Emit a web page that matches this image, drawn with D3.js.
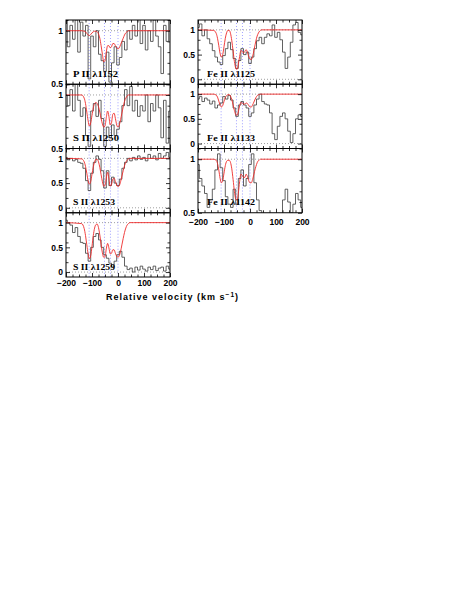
<!DOCTYPE html>
<meta charset="utf-8">
<style>
  body {
    background-color: white;
    padding: 0;
    margin: 0;
  }
  svg {
    display: block;
    background-color: white;
  }
  .lab {
    font-family: "Liberation Sans", sans-serif;
    font-weight: bold;
    font-size: 8.5px;
  }
  .ion {
    font-family: "Liberation Serif", serif;
    font-weight: bold;
    font-size: 9px;
  }
</style>
<script src="https://d3js.org/d3.v7.min.js"></script>
<svg id="vis"></svg>
<script>

// velocity grid of the spectra (km/s)
const vel = [-200,-190,-180,-170,-160,-150,-140,-130,-120,-110,-100,-90,-80,-70,-60,-50,-40,-30,-20,-10,
             0,10,20,30,40,50,60,70,80,90,100,110,120,130,140,150,160,170,180,190,200];
// velocity grid of the fitted profiles
const modelVel = [-200,-140,-130,-125,-120,-115,-110,-105,-100,-95,-90,-85,-80,-75,-70,-65,-60,-55,-50,-45,
                  -40,-35,-30,-25,-20,-15,-10,-5,0,5,10,15,20,25,30,35,40,45,50,60,200];
// component velocities (blue dotted)
const compVel = [-111, -52, -29, 0];

const ionLabels = ["P  II  λ1152", "S  II  λ1250", "S  II  λ1253", "S  II  λ1259",
                   "Fe  II  λ1125", "Fe  II  λ1133", "Fe  II  λ1142"];

// normalised flux
const specP1152 = [1.12,0.85,1.05,0.92,1.1,0.8,1.08,0.95,1.05,0.55,0.95,0.85,1.0,0.78,0.72,0.62,0.8,0.52,0.7,0.85,
                   0.68,0.75,0.9,0.82,1.0,0.92,1.05,0.95,1.12,0.88,1.05,0.82,1.0,0.9,1.1,0.95,0.85,0.6,1.05,0.9,1.1];
const specS1250 = [1.0,0.9,1.05,0.85,1.1,0.95,0.8,0.88,0.62,0.52,0.85,0.92,0.8,0.95,0.78,0.52,0.7,0.6,0.72,0.62,
                   0.68,0.75,0.9,1.05,0.9,1.08,0.85,0.95,0.8,0.9,0.85,1.0,0.75,0.92,0.85,1.0,0.88,0.6,0.95,0.55,0.85];
const specS1253 = [1.02,0.97,1.0,0.95,0.98,0.92,0.9,0.8,0.55,0.35,0.7,0.92,1.05,0.98,0.75,0.4,0.75,0.45,0.62,0.5,
                   0.45,0.58,0.8,0.92,1.0,0.95,1.02,0.97,1.05,0.98,1.02,0.95,1.08,1.0,1.05,0.97,1.1,1.0,1.05,1.12,1.02];
const specS1259 = [1.05,1.0,0.95,0.8,0.9,0.72,0.6,0.58,0.38,0.22,0.5,0.72,0.78,0.65,0.5,0.35,0.28,0.18,0.1,0.22,
                   0.35,0.42,0.3,0.12,0.05,0.08,0.0,0.1,0.04,0.12,0.06,0.02,0.1,0.05,0.12,0.03,0.08,0.1,0.02,0.12,0.06];
const specFe1125 = [1.05,1.12,0.88,1.0,0.82,0.72,0.58,0.45,0.35,0.3,0.48,0.62,0.75,0.6,0.42,0.22,0.38,0.62,0.5,0.55,
                    0.32,0.45,0.62,0.78,0.85,0.72,0.85,0.92,0.88,1.1,0.85,0.95,0.8,0.55,0.22,0.45,0.75,1.1,1.15,0.95,0.9];
const specFe1133 = [0.9,0.95,0.85,0.92,0.88,0.8,0.86,0.72,0.78,0.82,0.95,0.9,0.97,0.88,0.72,0.55,0.78,0.85,0.78,0.72,
                    0.55,0.62,0.78,0.9,1.0,0.85,0.8,0.78,0.62,0.2,0.08,0.35,0.55,0.62,0.5,0.25,0.02,0.2,0.5,0.58,0.55];
const specFe1142 = [0.95,0.82,0.75,0.68,0.55,0.62,0.72,0.9,1.05,0.92,0.8,0.65,0.58,0.55,0.72,0.58,0.82,0.9,0.75,0.82,
                    0.95,1.05,0.78,0.62,0.52,0.4,0.3,0.2,0.3,0.25,0.35,0.3,0.45,0.62,0.72,0.6,0.5,0.58,0.68,0.62,0.55];

// fitted profiles
const modP1152 = [1,1,0.995,0.99,0.975,0.96,0.955,0.965,0.98,0.99,0.995,0.995,0.99,0.97,0.93,0.86,0.78,0.71,0.72,0.8,
                  0.86,0.86,0.84,0.85,0.88,0.88,0.86,0.84,0.83,0.84,0.87,0.9,0.93,0.96,0.98,0.99,1,1,1,1,1];
const modS1250 = [1,1,0.97,0.92,0.84,0.76,0.71,0.74,0.81,0.88,0.92,0.93,0.92,0.89,0.84,0.78,0.73,0.7,0.71,0.79,
                  0.85,0.8,0.72,0.74,0.82,0.83,0.78,0.72,0.7,0.72,0.77,0.83,0.89,0.94,0.97,0.99,1,1,1,1,1];
const modS1253 = [1,0.99,0.93,0.84,0.7,0.55,0.48,0.53,0.68,0.83,0.93,0.98,0.98,0.93,0.82,0.67,0.53,0.44,0.45,0.6,
                  0.72,0.6,0.44,0.47,0.58,0.6,0.53,0.46,0.43,0.45,0.53,0.64,0.75,0.85,0.92,0.96,0.99,1,1,1,1];
const modS1259 = [1,0.98,0.88,0.74,0.55,0.37,0.27,0.33,0.52,0.74,0.89,0.96,0.97,0.9,0.75,0.56,0.39,0.3,0.31,0.47,
                  0.58,0.49,0.37,0.38,0.45,0.45,0.38,0.32,0.3,0.33,0.42,0.55,0.68,0.8,0.89,0.95,0.98,1,1,1,1];
const modFe1125 = [1,0.99,0.93,0.83,0.68,0.52,0.45,0.5,0.66,0.83,0.94,0.99,0.99,0.93,0.78,0.57,0.36,0.23,0.2,0.3,
                   0.46,0.58,0.57,0.53,0.56,0.6,0.55,0.46,0.41,0.4,0.46,0.58,0.71,0.83,0.91,0.96,0.99,1,1,1,1];
const modFe1133 = [1,1,0.98,0.94,0.86,0.78,0.74,0.77,0.85,0.93,0.97,0.99,0.99,0.96,0.89,0.78,0.67,0.59,0.57,0.64,
                   0.76,0.83,0.82,0.8,0.8,0.82,0.81,0.77,0.74,0.74,0.78,0.84,0.9,0.95,0.98,0.99,1,1,1,1,1];
const modFe1142 = [1,1,0.99,0.96,0.9,0.82,0.78,0.8,0.87,0.94,0.98,0.99,0.99,0.97,0.91,0.81,0.7,0.63,0.62,0.68,
                   0.79,0.86,0.85,0.83,0.83,0.86,0.84,0.8,0.78,0.78,0.81,0.86,0.91,0.95,0.98,0.99,1,1,1,1,1];

var width = 474, height = 614;
var svg = d3.select("#vis").attr("width", width).attr("height", height);

var colX = [66, 198], pw = 104, top0 = 20, ph = 64.25;
var narrow = [0.5, 1.1], wide = [-0.1, 1.2];

var panels = [
  {lab: ionLabels[0], spec: specP1152, model: modP1152, col: 0, row: 0, dom: narrow},
  {lab: ionLabels[1], spec: specS1250, model: modS1250, col: 0, row: 1, dom: narrow},
  {lab: ionLabels[2], spec: specS1253, model: modS1253, col: 0, row: 2, dom: wide},
  {lab: ionLabels[3], spec: specS1259, model: modS1259, col: 0, row: 3, dom: wide, last: true},
  {lab: ionLabels[4], spec: specFe1125, model: modFe1125, col: 1, row: 0, dom: wide},
  {lab: ionLabels[5], spec: specFe1133, model: modFe1133, col: 1, row: 1, dom: wide},
  {lab: ionLabels[6], spec: specFe1142, model: modFe1142, col: 1, row: 2, dom: narrow, last: true}
];
var labW = [45, 46, 42, 42, 48, 48, 48];

function tickify(sel, lw) {
  sel.select(".domain").remove();
  sel.selectAll("line").attr("stroke", "#000").attr("stroke-width", lw || 0.8);
}

panels.forEach(function(p, i) {
  var x0 = colX[p.col], y0 = top0 + p.row * ph;
  var xs = d3.scaleLinear().domain([-200, 200]).range([x0, x0 + pw]);
  var ys = d3.scaleLinear().domain(p.dom).range([y0 + ph, y0]);
  var g = svg.append("g");

  g.append("clipPath").attr("id", "clip" + i)
    .append("rect").attr("x", x0).attr("y", y0).attr("width", pw).attr("height", ph);
  var inner = g.append("g").attr("clip-path", "url(#clip" + i + ")");

  // continuum / zero level
  [0, 1].filter(v => v > p.dom[0] && v < p.dom[1]).forEach(function(v) {
    inner.append("line")
      .attr("x1", x0).attr("x2", x0 + pw).attr("y1", ys(v)).attr("y2", ys(v))
      .attr("stroke", "#888").attr("stroke-width", 0.8).attr("stroke-dasharray", "1,2");
  });

  // component velocities
  inner.selectAll("line.comp").data(compVel).enter().append("line")
    .attr("class", "comp")
    .attr("x1", d => xs(d)).attr("x2", d => xs(d))
    .attr("y1", y0).attr("y2", y0 + ph)
    .attr("stroke", "#8a8aff").attr("stroke-width", 0.8).attr("stroke-dasharray", "1,2");

  // data
  inner.append("path")
    .datum(d3.zip(vel, p.spec))
    .attr("fill", "none").attr("stroke", "#3a3a3a").attr("stroke-width", 0.8)
    .attr("d", d3.line().x(d => xs(d[0])).y(d => ys(d[1])).curve(d3.curveStep));

  // fit
  inner.append("path")
    .datum(d3.zip(modelVel, p.model))
    .attr("fill", "none").attr("stroke", "#ee2a2a").attr("stroke-width", 0.9)
    .attr("d", d3.line().x(d => xs(d[0])).y(d => ys(d[1])).curve(d3.curveMonotoneX));

  // ticks, all four sides, pointing in
  var xMajor = [-200, -100, 0, 100, 200];
  var xMinor = d3.range(-175, 200, 25).filter(v => v % 100 != 0);
  var yMajor = p.dom == narrow ? [0.5, 1] : [0, 0.5, 1];
  var yMinor = p.dom == narrow ? [0.6, 0.7, 0.8, 0.9, 1.1] : [0.2, 0.4, 0.6, 0.8];

  [[d3.axisBottom, y0 + ph], [d3.axisTop, y0]].forEach(function(a) {
    g.append("g").attr("transform", "translate(0," + a[1] + ")")
      .call(a[0](xs).tickValues(xMajor).tickSize(-4).tickFormat("")).call(tickify);
    g.append("g").attr("transform", "translate(0," + a[1] + ")")
      .call(a[0](xs).tickValues(xMinor).tickSize(-2.5).tickFormat("")).call(tickify);
  });
  [[d3.axisLeft, x0], [d3.axisRight, x0 + pw]].forEach(function(a) {
    g.append("g").attr("transform", "translate(" + a[1] + ",0)")
      .call(a[0](ys).tickValues(yMajor).tickSize(-4).tickFormat("")).call(tickify);
    g.append("g").attr("transform", "translate(" + a[1] + ",0)")
      .call(a[0](ys).tickValues(yMinor).tickSize(-2.5).tickFormat("")).call(tickify);
  });

  // y labels
  var yl = g.append("g").attr("transform", "translate(" + x0 + ",0)")
    .call(d3.axisLeft(ys).tickValues(yMajor).tickSize(0).tickPadding(3).tickFormat(d3.format("~g")));
  yl.select(".domain").remove();
  yl.attr("font-family", null).attr("font-size", null);
  yl.selectAll("text").attr("class", "lab");

  // frame
  g.append("rect")
    .attr("x", x0).attr("y", y0).attr("width", pw).attr("height", ph)
    .attr("fill", "none").attr("stroke", "#000").attr("stroke-width", 1);

  // ion label
  g.append("text").attr("class", "ion")
    .attr("x", x0 + (p.col ? 9 : 7)).attr("y", y0 + ph - 7.5)
    .attr("textLength", labW[i]).attr("lengthAdjust", "spacingAndGlyphs")
    .text(p.lab);

  // x labels under the last panel of each column
  if (p.last) {
    var xl = g.append("g").attr("transform", "translate(0," + (y0 + ph) + ")")
      .call(d3.axisBottom(xs).tickValues(xMajor).tickSize(0)
        .tickPadding(p.col ? 6.5 : 3).tickFormat(d3.format("d")));
    xl.select(".domain").remove();
    xl.attr("font-family", null).attr("font-size", null);
    xl.selectAll("text").attr("class", "lab");
  }
});

// x axis title
var tt = svg.append("text").attr("class", "lab")
  .attr("x", 106).attr("y", 299.5)
  .attr("textLength", 132).attr("lengthAdjust", "spacing")
  .style("font-size", "9px");
tt.append("tspan").text("Relative velocity (km s");
tt.append("tspan").attr("dy", -3).style("font-size", "6.5px").text("−1");
tt.append("tspan").attr("dy", 3).text(")");

</script>
